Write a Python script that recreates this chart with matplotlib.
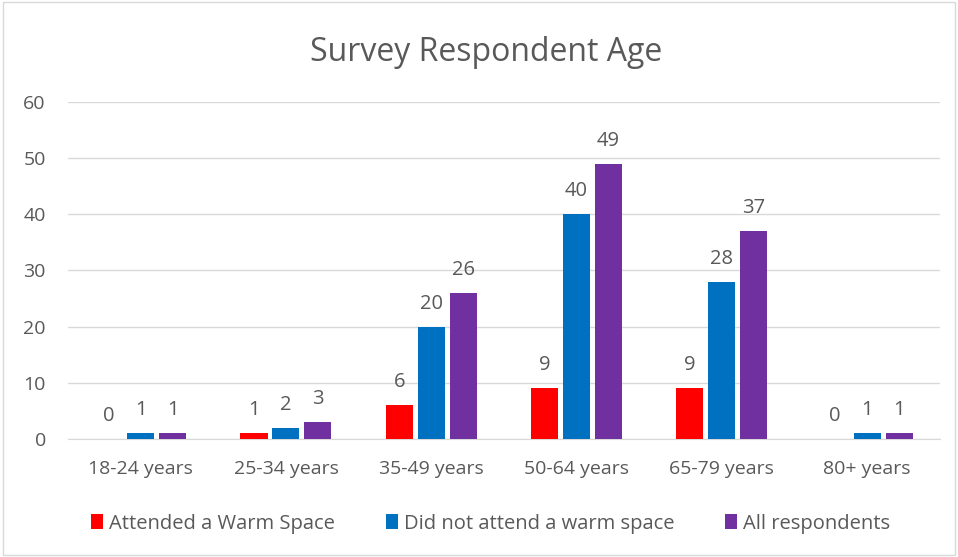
import matplotlib.pyplot as plt
import numpy as np

categories = ["18-24 years", "25-34 years", "35-49 years", "50-64 years", "65-79 years", "80+ years"]
attended = [0, 1, 6, 9, 9, 0]
not_attended = [1, 2, 20, 40, 28, 1]
all_resp = [1, 3, 26, 49, 37, 1]
series_names = ["Attended a Warm Space", "Did not attend a warm space", "All respondents"]
colors = ["#FF0000", "#0070C0", "#7030A0"]
yticks = [0, 10, 20, 30, 40, 50, 60]


def main():
    plt.rcParams["font.family"] = ["Open Sans", "DejaVu Sans"]
    text_color = "#595959"

    fig = plt.figure(figsize=(9.58, 5.57), dpi=100)
    ax = fig.add_axes([0.071, 0.212, 0.91, 0.605])

    x = np.arange(len(categories))
    width = 0.186
    step = 0.22
    for i, (vals, name, col) in enumerate(zip([attended, not_attended, all_resp], series_names, colors)):
        pos = x + (i - 1) * step
        bars = ax.bar(pos, vals, width, color=col, label=name, zorder=3)
        for b, v in zip(bars, vals):
            ax.text(b.get_x() + b.get_width() / 2, v + 3.2, str(v), ha="center", va="baseline",
                    fontsize=14.5, color=text_color)

    ax.set_xlim(-0.5, len(categories) - 0.5)
    ax.set_ylim(0, 60)
    ax.set_yticks(yticks)
    ax.set_xticks(x)
    ax.set_xticklabels(categories)
    ax.tick_params(axis="both", length=0, labelsize=14, labelcolor=text_color)
    ax.tick_params(axis="x", pad=15)
    ax.tick_params(axis="y", pad=16)
    ax.grid(axis="y", color="#D9D9D9", linewidth=1, zorder=0)
    for s in ["top", "right", "left"]:
        ax.spines[s].set_visible(False)
    ax.spines["bottom"].set_color("#D9D9D9")

    fig.suptitle("Survey Respondent Age", x=0.507, y=0.935, fontsize=23, color=text_color)

    fig.legend(loc="center", bbox_to_anchor=(0.512, 0.06), ncol=3, frameon=False,
               fontsize=14.5, labelcolor=text_color, handlelength=0.6, handleheight=0.7,
               handletextpad=0.3, columnspacing=2.5)

    border = plt.Rectangle((0.003, 0.003), 0.994, 0.994, transform=fig.transFigure,
                           fill=False, edgecolor="#D9D9D9", linewidth=1)
    fig.patches.append(border)

    fig.savefig("out.png", dpi=100)


if __name__ == "__main__":
    main()
